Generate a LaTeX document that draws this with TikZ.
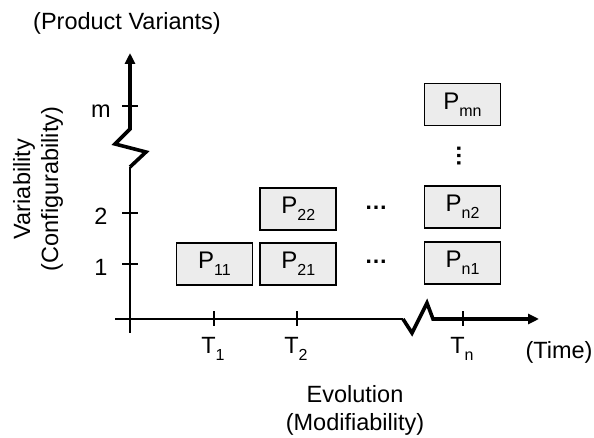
\documentclass[tikz,border=0pt]{standalone}
\usepackage{fontspec}
\setmainfont{Liberation Sans}
\usetikzlibrary{arrows.meta,positioning}
\newcommand{\lowsub}[1]{\raisebox{-7pt}{\fontsize{16}{16}\selectfont #1}}

\begin{document}
\begin{tikzpicture}[
  x=1pt,y=1pt,
  node distance=11pt and 6pt,
  lbl/.style={font=\fontsize{23.5}{28}\selectfont,inner sep=0pt,align=center},
  box/.style={draw,line width=1.8pt,fill=gray!15,minimum width=76pt,
              minimum height=42pt,inner sep=0pt,font=\fontsize{24}{28}\selectfont},
  dots/.style={font=\fontsize{23}{23}\selectfont\bfseries,inner sep=0pt},
  axis/.style={line width=2.4pt},
  brk/.style={line width=3.6pt,line join=miter},
  tickmark/.style={line width=2pt},
  arr/.style={-{Triangle[length=11pt,width=10pt]}}
]
\useasboundingbox (0,0) rectangle (594,438);
% axes with breaks
\coordinate (ybot) at (130,105);
\coordinate (ybrk1) at (130,271);
\coordinate (ybrk2) at (130,309);
\coordinate (ytop) at (130,385);
\coordinate (xleft) at (115,119);
\coordinate (xbrk1) at (403,119);
\coordinate (xbrk2) at (433,119);
\coordinate (xend) at (539,119);
\draw[axis] (ybot) -- (ybrk1);
\draw[brk,arr] (ybrk1) -- (146,286) -- (115,294) -- (ybrk2) -- (ytop);
\draw[axis] (xleft) -- (xbrk1);
\draw[brk,arr] (xbrk1) -- (412,105) -- (427,135) -- (xbrk2) -- (xend);
% ticks
\foreach \yy/\tl in {174/1,225/2,332/m}{
  \draw[tickmark] (122,\yy) -- (138,\yy);
  \node[lbl,anchor=base] (v\tl) at (101,\yy-12) {\tl};
}
\foreach \xx/\tl in {214/1,297/2,463/n}{
  \draw[tickmark] (\xx,112) -- (\xx,127);
  \node[lbl,anchor=base] (t\tl) at (\xx-1,84) {T\lowsub{\tl}};
}
% axis labels
\node[lbl,anchor=base] (variants) at (127,408) {(Product Variants)};
\node[lbl,rotate=90] (variab) at (38,249) {Variability\\(Configurability)};
\node[lbl,anchor=base] (time) at (559,79) {(Time)};
\node[lbl] (evol) at (355,28) {Evolution\\(Modifiability)};
% product variants
\node[box] (p11) at (214.5,174) {P\lowsub{11}};
\node[box,right=of p11] (p21) {P\lowsub{21}};
\node[box,above=of p21] (p22) {P\lowsub{22}};
\node[box] (pn1) at (462.5,175) {P\lowsub{n1}};
\node[box,above=12pt of pn1] (pn2) {P\lowsub{n2}};
\node[box] (pmn) at (462.5,333.5) {P\lowsub{mn}};
\node[dots] (hdots1) at (376,176) {…};
\node[dots] (hdots2) at (376,230) {…};
\node[dots,rotate=90] (vdots) at (459,281.5) {…};
\end{tikzpicture}
\end{document}
